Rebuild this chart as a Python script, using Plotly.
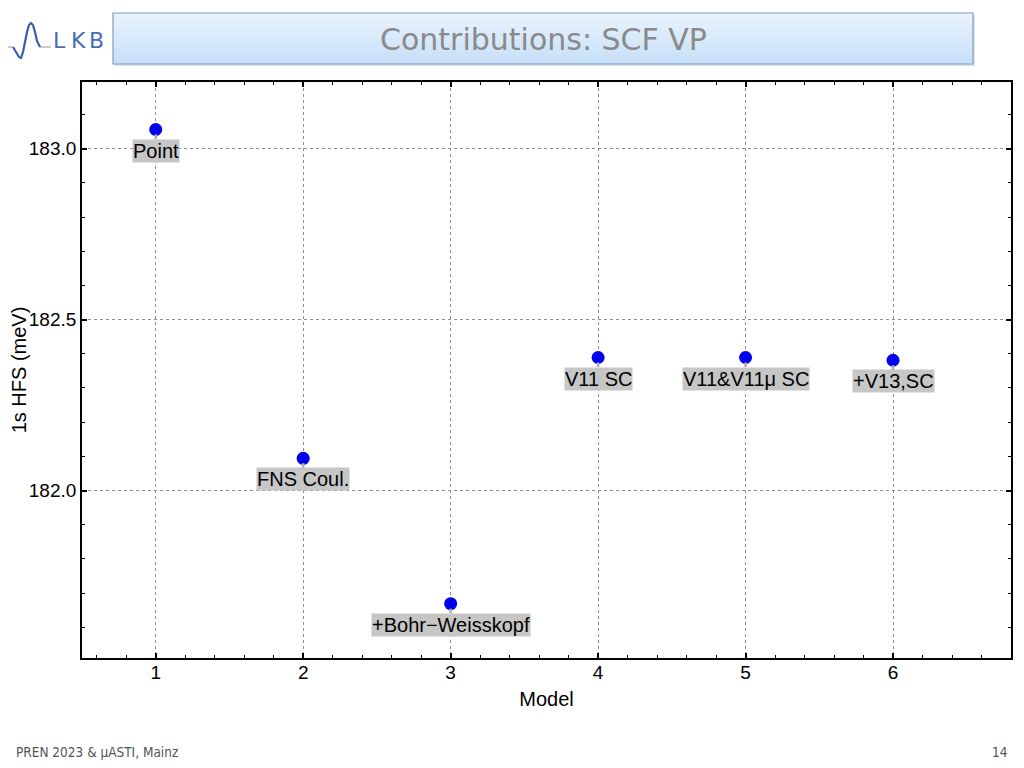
import plotly.graph_objects as go

# ---- data ----
models = [1, 2, 3, 4, 5, 6]
hfs_mev = [183.056, 182.094, 181.669, 182.389, 182.389, 182.381]
labels = ["Point", "FNS Coul.", "+Bohr\u2212Weisskopf", "V11 SC", "V11&V11\u03bc SC", "+V13,SC"]

slide_title = "Contributions: SCF VP"
footer_left = "PREN 2023 & \u00b5ASTI, Mainz"
footer_right = "14"
x_title = "Model"
y_title = "1s HFS (meV)"

# page is offset by the default 8px body margin
OFF = 8
W, H = 1024 - OFF, 768 - OFF
L, R, T, B = 82, 1011, 82, 658   # plot area in page pixels


def px(x):
    return (x - L) / (R - L)


def py(y):
    return (B - y) / (B - T)


fig = go.Figure()
fig.add_trace(go.Scatter(
    x=models, y=hfs_mev, mode="markers",
    marker=dict(color="#0000ee", size=13, line=dict(width=0)),
    showlegend=False, hoverinfo="skip",
))

ann = []
for xm, yv, lab in zip(models, hfs_mev, labels):
    ann.append(dict(
        x=xm, y=yv, xref="x", yref="y", text=lab, showarrow=True,
        ax=0, ay=21, arrowhead=0, arrowwidth=2.5, arrowcolor="#b0b0b0",
        standoff=5, bgcolor="#c6c6c6", borderpad=0,
        font=dict(family="Liberation Sans, Arial, sans-serif", size=20, color="black"),
    ))

# slide decorations
shapes = []
# banner shadow
shapes.append(dict(type="rect", xref="paper", yref="paper",
                   x0=px(115), x1=px(975), y0=py(66), y1=py(15),
                   fillcolor="rgba(140,140,140,0.25)", line=dict(width=0), layer="above"))
# banner gradient
n = 12
top_c = (232, 243, 254)
bot_c = (200, 224, 248)
y_top, y_bot = 13, 64
for i in range(n):
    t = i / (n - 1)
    c = tuple(int(top_c[k] + (bot_c[k] - top_c[k]) * t) for k in range(3))
    ya = y_top + (y_bot - y_top) * i / n
    yb = y_top + (y_bot - y_top) * (i + 1) / n
    shapes.append(dict(type="rect", xref="paper", yref="paper",
                       x0=px(113), x1=px(973), y0=py(yb + 0.5), y1=py(ya),
                       fillcolor="rgb(%d,%d,%d)" % c, line=dict(width=0), layer="above"))
shapes.append(dict(type="rect", xref="paper", yref="paper",
                   x0=px(113), x1=px(973), y0=py(64), y1=py(13),
                   fillcolor="rgba(0,0,0,0)", line=dict(color="#7f9dc6", width=1.2), layer="above"))

# logo wave
def path(points):
    return "M " + " L ".join("%f,%f" % (px(a), py(b)) for a, b in points)

shapes.append(dict(type="path", xref="paper", yref="paper",
                   path=path([(0, 47), (13, 47)]), line=dict(color="#a8a8a8", width=1.2), layer="above"))
shapes.append(dict(type="path", xref="paper", yref="paper",
                   path=path([(40, 47), (51, 47)]), line=dict(color="#a8a8a8", width=1.2), layer="above"))
wave = [(13, 47), (16, 52), (19, 57), (21, 58), (23, 52), (25, 42), (27, 32), (29, 25),
        (31, 23), (33, 25), (35, 32), (37, 41), (40, 47)]
shapes.append(dict(type="path", xref="paper", yref="paper",
                   path=path(wave), line=dict(color="#3b5fb0", width=2.2), layer="above"))

for ch, cx in zip(["L", "K", "B"], [59, 78, 96]):
    ann.append(dict(x=px(cx), y=py(41), xref="paper", yref="paper", text=ch,
                    showarrow=False, xanchor="center", yanchor="middle",
                    font=dict(family="DejaVu Sans, sans-serif", size=22, color="#4a6cb4")))

ann.append(dict(x=px(543), y=py(40), xref="paper", yref="paper", text=slide_title,
                showarrow=False, xanchor="center", yanchor="middle",
                font=dict(family="DejaVu Sans, sans-serif", size=30, color="#8a8a8a")))
ann.append(dict(x=px(14), y=py(752), xref="paper", yref="paper", text=footer_left,
                showarrow=False, xanchor="left", yanchor="middle",
                font=dict(family="DejaVu Sans Condensed, sans-serif", size=13.5, color="#555555")))
ann.append(dict(x=px(1010), y=py(752), xref="paper", yref="paper", text=footer_right,
                showarrow=False, xanchor="right", yanchor="middle",
                font=dict(family="DejaVu Sans Condensed, sans-serif", size=13.5, color="#555555")))

tick_font = dict(family="Liberation Sans, Arial, sans-serif", size=19, color="black")
title_font = dict(family="Liberation Sans, Arial, sans-serif", size=20, color="black")
grid_dash = "3px,3px"
grid_color = "#8f8f8f"

fig.update_layout(
    width=W, height=H,
    margin=dict(l=L - OFF, r=1024 - R, t=T - OFF, b=768 - B, autoexpand=False),
    paper_bgcolor="white", plot_bgcolor="white",
    annotations=ann, shapes=shapes,
    xaxis=dict(
        range=[0.5, 6.8], dtick=1, tick0=0, showgrid=True, gridcolor=grid_color,
        griddash=grid_dash, gridwidth=1, zeroline=False,
        showline=True, linecolor="black", linewidth=1.8, mirror="ticks",
        ticks="inside", ticklen=5, tickwidth=1.5, tickcolor="black",
        minor=dict(dtick=0.2, ticks="inside", ticklen=3, tickwidth=1.3, tickcolor="black", showgrid=False),
        tickfont=tick_font, ticklabelstandoff=-4,
        title=dict(text=x_title, font=title_font, standoff=10),
    ),
    yaxis=dict(
        range=[181.51, 183.195], dtick=0.5, tick0=182, tickformat=".1f",
        showgrid=True, gridcolor=grid_color, griddash=grid_dash, gridwidth=1, zeroline=False,
        showline=True, linecolor="black", linewidth=1.8, mirror="ticks",
        ticks="inside", ticklen=5, tickwidth=1.5, tickcolor="black",
        minor=dict(dtick=0.1, ticks="inside", ticklen=3, tickwidth=1.3, tickcolor="black", showgrid=False),
        tickfont=tick_font,
        title=dict(text=y_title, font=title_font, standoff=2),
    ),
)

fig.write_html("out.html")
